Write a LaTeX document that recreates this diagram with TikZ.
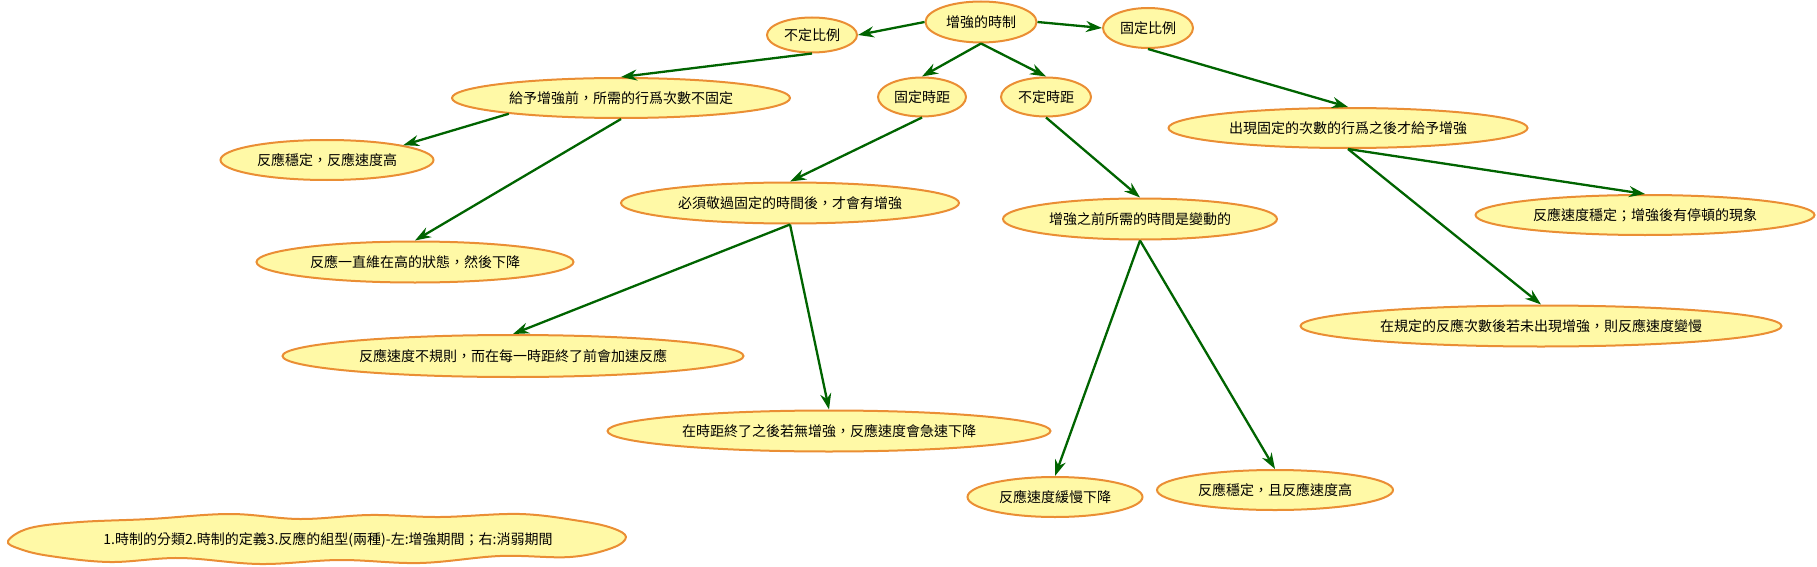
\documentclass[tikz,border=0pt]{standalone}
\usepackage{fontspec}
\setmainfont{Noto Sans CJK TC}
\usetikzlibrary{shapes.geometric,arrows.meta}
\definecolor{nodefill}{RGB}{255,249,166}
\definecolor{nodeline}{RGB}{234,142,52}
\definecolor{arrgreen}{RGB}{0,100,0}
\begin{document}
\begin{tikzpicture}[
  x=1pt, y=-1pt,
  bubble/.style={ellipse, draw=nodeline, fill=nodefill, line width=2pt,
                 inner sep=0pt, font=\fontsize{14}{17}\selectfont},
  arr/.style={-{Stealth[length=16pt,width=11pt]}, draw=arrgreen, line width=2.3pt},
]
\useasboundingbox (0,0) rectangle (1817,567);

\node[bubble, minimum width=111, minimum height=41] (root) at (981,22) {增強的時制};
\node[bubble, minimum width=90, minimum height=35] (varratio) at (812,35) {不定比例};
\node[bubble, minimum width=90, minimum height=40] (fixratio) at (1148,28) {固定比例};
\node[bubble, minimum width=88, minimum height=39] (fixint) at (922,97) {固定時距};
\node[bubble, minimum width=90, minimum height=39] (varint) at (1046,97) {不定時距};

\node[bubble, minimum width=338, minimum height=40] (varratiodef) at (621,98) {給予增強前，所需的行爲次數不固定};
\node[bubble, minimum width=213, minimum height=40] (varratioa) at (327,160) {反應穩定，反應速度高};
\node[bubble, minimum width=317, minimum height=41] (varratiob) at (415,262) {反應一直維在高的狀態，然後下降};

\node[bubble, minimum width=338, minimum height=41] (fixintdef) at (790,203) {必須敬過固定的時間後，才會有增強};
\node[bubble, minimum width=461, minimum height=42] (fixinta) at (513,356) {反應速度不規則，而在每一時距終了前會加速反應};
\node[bubble, minimum width=443, minimum height=41] (fixintb) at (829,431) {在時距終了之後若無增強，反應速度會急速下降};

\node[bubble, minimum width=274, minimum height=41] (varintdef) at (1140,219) {增強之前所需的時間是變動的};
\node[bubble, minimum width=175, minimum height=40] (varinta) at (1055,497) {反應速度緩慢下降};
\node[bubble, minimum width=236, minimum height=40] (varintb) at (1275,490) {反應穩定，且反應速度高};

\node[bubble, minimum width=359, minimum height=40] (fixratiodef) at (1348,128) {出現固定的次數的行爲之後才給予增強};
\node[bubble, minimum width=339, minimum height=40] (fixratioa) at (1645,215) {反應速度穩定；增強後有停頓的現象};
\node[bubble, minimum width=481, minimum height=41] (fixratiob) at (1541,326) {在規定的反應次數後若未出現增強，則反應速度變慢};

\draw[nodeline, fill=nodefill, line width=2pt, line join=round]
  plot[smooth cycle, tension=0.6] coordinates {
    (8,541) (30,528) (80,522) (150,519) (230,514) (300,519) (370,515)
    (440,517) (520,514) (580,521) (612,528) (626,537)
    (612,548) (570,557) (500,556) (420,563) (340,560) (260,564)
    (180,558) (110,562) (50,556) (20,549)};
\node[font=\fontsize{14}{17}\selectfont] (note) at (328,540)
  {1.時制的分類2.時制的定義3.反應的組型(兩種)-左:增強期間；右:消弱期間};

\draw[arr] (root.west) -- (varratio.east);
\draw[arr] (root.east) -- (fixratio.west);
\draw[arr] (root.south) -- (fixint.north);
\draw[arr] (root.south) -- (varint.north);

\draw[arr] (varratio.south) -- (varratiodef.north);
\draw[arr] (varratiodef.188) -- (varratioa.11);
\draw[arr] (varratiodef.south) -- (varratiob.north);

\draw[arr] (fixint.south) -- (fixintdef.north);
\draw[arr] (fixintdef.south) -- (fixinta.north);
\draw[arr] (fixintdef.south) -- (fixintb.north);

\draw[arr] (varint.south) -- (varintdef.north);
\draw[arr] (varintdef.south) -- (varinta.north);
\draw[arr] (varintdef.south) -- (varintb.north);

\draw[arr] (fixratio.south) -- (fixratiodef.north);
\draw[arr] (fixratiodef.south) -- (fixratioa.north);
\draw[arr] (fixratiodef.south) -- (fixratiob.north);

\end{tikzpicture}
\end{document}
